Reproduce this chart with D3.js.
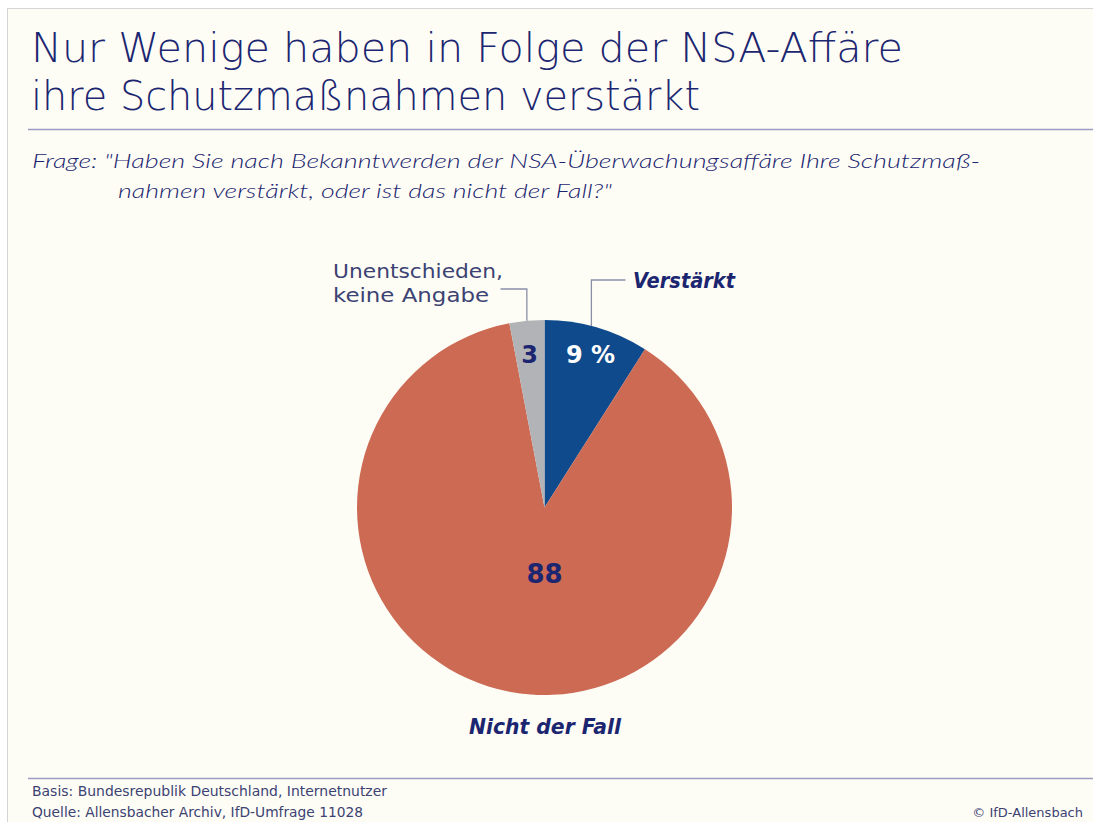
<!DOCTYPE html>
<html>
<head>
<meta charset="utf-8">
<script src="https://cdn.jsdelivr.net/npm/d3@7"></script>
<style>
  body { margin: 0; background: #fff; }
  svg text { font-family: 'DejaVu Sans', 'Noto Sans', sans-serif; }
</style>
</head>
<body>
<div id="chart"></div>
<script>
const categories = ['Verstärkt', 'Nicht der Fall', 'Unentschieden, keine Angabe'];
const values = [9, 88, 3];
const valueLabels = ['9 %', '88', '3'];
const colors = ['#0f4a8c', '#cc6a54', '#b1b3b6'];

const width = 1093;
const height = 822;
const navy = '#1c2670';
const grayText = '#3c4272';

const svg = d3.select('#chart').append('svg')
  .attr('width', width)
  .attr('height', height);

// background panel with thin border
svg.append('rect')
  .attr('x', 7.5).attr('y', 8.5)
  .attr('width', width).attr('height', height)
  .attr('fill', '#fdfdf6')
  .attr('stroke', '#d4d4d4');

// fits a text to a given width (reference font is wider than what we have)
function fit(sel, w) {
  return sel.attr('textLength', w).attr('lengthAdjust', 'spacingAndGlyphs');
}

// title
fit(svg.append('text').attr('x', 31).attr('y', 62)
  .attr('fill', navy).attr('font-size', 40).attr('font-weight', 200)
  .text('Nur Wenige haben in Folge der NSA-Affäre'), 872);
fit(svg.append('text').attr('x', 31).attr('y', 110)
  .attr('fill', navy).attr('font-size', 40).attr('font-weight', 200)
  .text('ihre Schutzmaßnahmen verstärkt'), 669);

svg.append('line')
  .attr('x1', 28).attr('x2', width)
  .attr('y1', 129.5).attr('y2', 129.5)
  .attr('stroke', '#9a9cc4').attr('stroke-width', 1.5);

// question
fit(svg.append('text').attr('x', 32).attr('y', 168)
  .attr('fill', navy).attr('font-size', 20).attr('font-style', 'italic').attr('font-weight', 300)
  .style('font-family', 'Lato, sans-serif')
  .text('Frage:  "Haben Sie nach Bekanntwerden der NSA-Überwachungsaffäre Ihre Schutzmaß-'), 948);
fit(svg.append('text').attr('x', 118).attr('y', 198)
  .attr('fill', navy).attr('font-size', 20).attr('font-style', 'italic').attr('font-weight', 300)
  .style('font-family', 'Lato, sans-serif')
  .text('nahmen verstärkt, oder ist das nicht der Fall?"'), 494);

// pie
const cx = 544.5, cy = 507.5, r = 187.5;
const g = svg.append('g').attr('transform', `translate(${cx},${cy})`);

const pie = d3.pie().sort(null).value(d => d);
const arcs = pie(values);
const arc = d3.arc().innerRadius(0).outerRadius(r);

g.selectAll('path')
  .data(arcs)
  .enter()
  .append('path')
  .attr('d', arc)
  .attr('fill', (d, i) => colors[i]);

// value labels
const labelPos = [
  { x: 46, y: -145, fill: '#fff', size: 24 },
  { x: 0, y: 75, fill: navy, size: 26 },
  { x: -15, y: -145, fill: navy, size: 24 }
];
g.selectAll('text.val')
  .data(arcs)
  .enter()
  .append('text')
  .attr('class', 'val')
  .attr('x', (d, i) => labelPos[i].x)
  .attr('y', (d, i) => labelPos[i].y)
  .attr('text-anchor', 'middle')
  .attr('font-weight', 'bold')
  .attr('font-size', (d, i) => labelPos[i].size)
  .attr('fill', (d, i) => labelPos[i].fill)
  .text((d, i) => valueLabels[i]);

// leader lines
const leader = '#8a8ea8';
const pBlue = d3.pointRadial((arcs[0].startAngle + arcs[0].endAngle) / 2 - 0.03, r);
g.append('polyline')
  .attr('points', [[pBlue[0], pBlue[1]], [pBlue[0], -227.5], [81, -227.5]].join(' '))
  .attr('fill', 'none').attr('stroke', leader).attr('stroke-width', 1.3);
const pGray = d3.pointRadial((arcs[2].startAngle + arcs[2].endAngle) / 2, r);
g.append('polyline')
  .attr('points', [[pGray[0], pGray[1]], [pGray[0], -218.5], [-44, -218.5]].join(' '))
  .attr('fill', 'none').attr('stroke', leader).attr('stroke-width', 1.3);

// category labels
fit(svg.append('text').attr('x', 633).attr('y', 288)
  .attr('fill', navy).attr('font-size', 21)
  .attr('font-weight', 'bold').attr('font-style', 'italic')
  .text(categories[0]), 102);

fit(svg.append('text').attr('x', 469).attr('y', 734)
  .attr('fill', navy).attr('font-size', 22)
  .attr('font-weight', 'bold').attr('font-style', 'italic')
  .text(categories[1]), 152);

fit(svg.append('text').attr('x', 333).attr('y', 278)
  .attr('fill', grayText).attr('font-size', 19)
  .text('Unentschieden,'), 170);
fit(svg.append('text').attr('x', 333).attr('y', 302)
  .attr('fill', grayText).attr('font-size', 19)
  .text('keine Angabe'), 156);

// footer
svg.append('line')
  .attr('x1', 28).attr('x2', width)
  .attr('y1', 778.5).attr('y2', 778.5)
  .attr('stroke', '#9a9cc4').attr('stroke-width', 1.5);

fit(svg.append('text').attr('x', 32).attr('y', 796)
  .attr('fill', grayText).attr('font-size', 14)
  .text('Basis: Bundesrepublik Deutschland, Internetnutzer'), 355);
fit(svg.append('text').attr('x', 32).attr('y', 817)
  .attr('fill', grayText).attr('font-size', 14)
  .text('Quelle: Allensbacher Archiv, IfD-Umfrage 11028'), 331);
svg.append('text')
  .attr('x', 1083).attr('y', 817)
  .attr('text-anchor', 'end')
  .attr('fill', grayText).attr('font-size', 13)
  .text('© IfD-Allensbach');
</script>
</body>
</html>
